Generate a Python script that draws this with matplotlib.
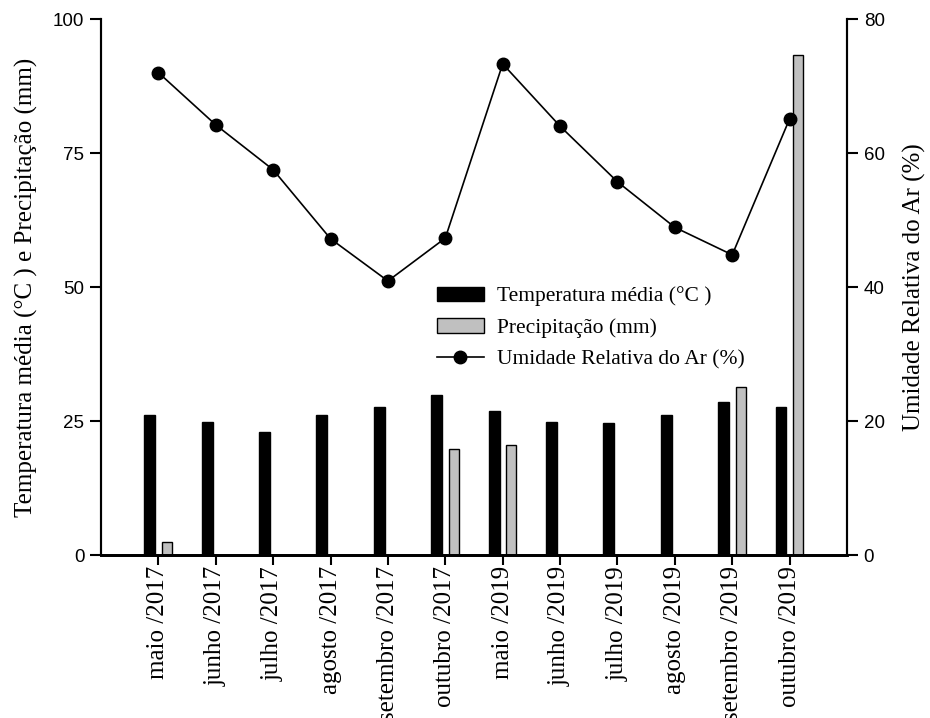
import numpy as np
import matplotlib
matplotlib.use('Agg')
import matplotlib.pyplot as plt

meses = ['maio /2017', 'junho /2017', 'julho /2017', 'agosto /2017', 'setembro /2017',
         'outubro /2017', 'maio /2019', 'junho /2019', 'julho /2019', 'agosto /2019',
         'setembro /2019', 'outubro /2019']
temperatura = [26.2, 24.8, 22.9, 26.2, 27.7, 29.8, 26.9, 24.9, 24.7, 26.1, 28.5, 27.7]
precipitacao = [2.5, 0, 0, 0, 0, 19.7, 20.5, 0, 0, 0, 31.4, 93.3]
umidade = [72.0, 64.2, 57.5, 47.2, 40.9, 47.3, 73.3, 64.0, 55.7, 48.9, 44.8, 65.1]

serif = 'Liberation Serif'
sans = 'Liberation Sans'

x = np.arange(len(meses))

fig = plt.figure(figsize=(9.3, 7.18), dpi=100)
ax = fig.add_axes([101/930, 163/718, 746/930, 536/718])
ax2 = ax.twinx()

b1 = ax.bar(x - 0.15, temperatura, width=0.19, color='black', edgecolor='black',
            linewidth=1, label='Temperatura média (°C )')
b2 = ax.bar(x + 0.15, precipitacao, width=0.18, color='#c0c0c0', edgecolor='black',
            linewidth=1, label='Precipitação (mm)')
l1, = ax2.plot(x, umidade, color='black', linewidth=1.2, marker='o', markersize=9,
               label='Umidade Relativa do Ar (%)')

ax.set_xlim(-1, 12)
ax.set_ylim(0, 100)
ax2.set_ylim(0, 80)
ax.set_yticks([0, 25, 50, 75, 100])
ax2.set_yticks([0, 20, 40, 60, 80])
ax.set_xticks(x)
ax.set_xticklabels(meses, rotation=90, fontfamily=serif, fontsize=18)

for a in (ax, ax2):
    a.spines['top'].set_visible(False)
    a.spines['left'].set_linewidth(1.5)
    a.spines['right'].set_linewidth(1.5)
    a.spines['bottom'].set_linewidth(2)
ax.tick_params(axis='y', direction='out', length=8, width=1.5, labelsize=13.5, pad=4)
ax2.tick_params(axis='y', direction='out', length=8, width=1.5, labelsize=13.5, pad=4)
ax.tick_params(axis='x', direction='out', length=7, width=1.5, pad=1)
for lab in ax.get_yticklabels() + ax2.get_yticklabels():
    lab.set_fontfamily(sans)

ax.set_ylabel('Temperatura média (°C ) e Precipitação (mm)', fontfamily=serif,
              fontsize=18, labelpad=11)
ax2.set_ylabel('Umidade Relativa do Ar (%)', fontfamily=serif, fontsize=18, labelpad=13)

leg = ax2.legend([b1, b2, l1], [b1.get_label(), b2.get_label(), l1.get_label()],
                 loc='upper left', bbox_to_anchor=(0.424, 0.537), frameon=False,
                 prop={'family': serif, 'size': 15.5}, handlelength=2.2,
                 handleheight=0.65, labelspacing=0.55, handletextpad=0.6)

fig.savefig('out.png', dpi=100)
